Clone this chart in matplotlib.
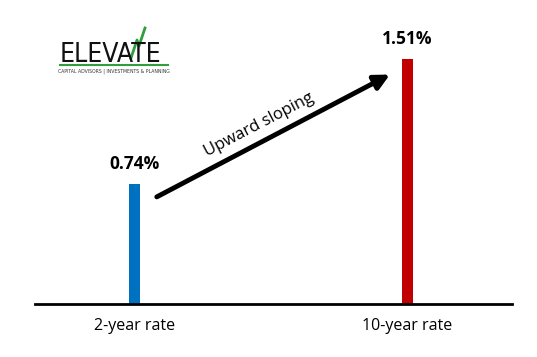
import matplotlib.pyplot as plt

categories = ['2-year rate', '10-year rate']
rates = [0.74, 1.51]
value_labels = ['0.74%', '1.51%']
bar_colors = ['#0070C0', '#C00000']

fig = plt.figure(figsize=(5.37, 3.57), dpi=100)
ax = fig.add_axes([35 / 537, 53 / 357, 477 / 537, 284 / 357])

x = list(range(len(categories)))
ax.bar(x, rates, width=0.042, color=bar_colors)
ax.set_xlim(-0.364, 1.383)
ax.set_ylim(0, 1.75)

for xi, v, lab in zip(x, rates, value_labels):
    ax.text(xi, v + 0.07, lab, ha='center', va='bottom', fontsize=12.5,
            fontweight='bold', family='Open Sans')

ax.set_xticks(x)
ax.set_xticklabels(categories, fontsize=11.5, family='Open Sans')
ax.tick_params(axis='x', length=0, pad=10)
ax.set_yticks([])
for s in ['top', 'left', 'right']:
    ax.spines[s].set_visible(False)
ax.spines['bottom'].set_linewidth(2)

# slope arrow between the bars
ax.annotate('', xy=(0.936, 1.414), xytext=(0.082, 0.66),
            arrowprops=dict(arrowstyle='-|>,head_length=0.9,head_width=0.45',
                            color='black', lw=3.5, shrinkA=0, shrinkB=0))
ax.text(0.455, 1.106, 'Upward sloping', rotation=27.5, ha='center', va='center',
        fontsize=12, family='Open Sans', rotation_mode='anchor')

# logo
fig.text(60 / 537, 1 - 62 / 357, 'ELEVATE', fontsize=19, family='DejaVu Sans',
         fontstretch='condensed', ha='left', va='baseline', color='#111111')
fig.add_artist(plt.Line2D([60 / 537, 168 / 537], [1 - 64.5 / 357, 1 - 64.5 / 357],
                          color='#2E9E3E', lw=1.5))
fig.text(114 / 537, 1 - 71 / 357, 'CAPITAL ADVISORS | INVESTMENTS & PLANNING', fontsize=3.3,
         family='DejaVu Sans', ha='center', va='center', color='#333333')
fig.add_artist(plt.Line2D([131 / 537, 137 / 537, 139 / 537, 145 / 537],
                          [1 - 58 / 357, 1 - 40 / 357, 1 - 46 / 357, 1 - 28 / 357],
                          color='#2E9E3E', lw=2))

fig.savefig('out.png', dpi=100, facecolor='white')
